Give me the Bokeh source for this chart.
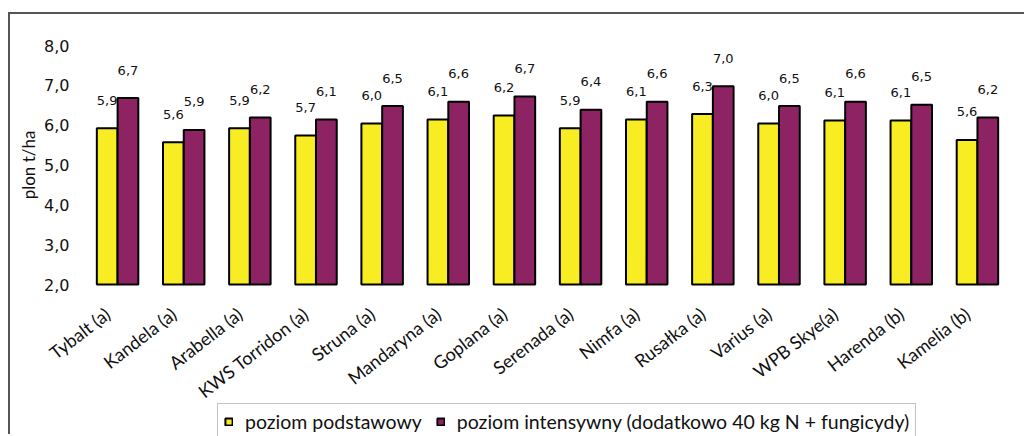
import math
from bokeh.plotting import figure
from bokeh.models import ColumnDataSource, Range1d, Legend, LegendItem, FixedTicker, CustomJSTickFormatter
from bokeh.transform import dodge
from bokeh.core.properties import value
from bokeh.embed import file_html
from bokeh.resources import INLINE

categories = ["Tybalt (a)", "Kandela (a)", "Arabella (a)", "KWS Torridon (a)", "Struna (a)",
              "Mandaryna (a)", "Goplana (a)", "Serenada (a)", "Nimfa (a)", "Rusałka (a)",
              "Varius (a)", "WPB Skye(a)", "Harenda (b)", "Kamelia (b)"]
basic = [5.92, 5.57, 5.92, 5.74, 6.04, 6.14, 6.24, 5.92, 6.14, 6.28, 6.04, 6.12, 6.12, 5.63]
intensive = [6.68, 5.88, 6.19, 6.14, 6.48, 6.59, 6.72, 6.39, 6.59, 6.98, 6.48, 6.59, 6.51, 6.19]
series_names = ["poziom podstawowy", "poziom intensywny (dodatkowo 40 kg N + fungicydy)"]
y_ticks = [2.0, 3.0, 4.0, 5.0, 6.0, 7.0, 8.0]
y_title = "plon t/ha"

def fmt(v):
    return f"{v:.1f}".replace(".", ",")

n = len(categories)
src = ColumnDataSource(dict(
    x=[i + 0.5 for i in range(n)], cat=categories, basic=basic, intensive=intensive,
    basic_lbl=[fmt(v) for v in basic], intensive_lbl=[fmt(v) for v in intensive],
))

# layout in pixels: the plot frame fills the chart box; category slots take 926 px,
# with 74 px on their left for the value labels; the value axis 2..8 spans 239 px and
# the frame continues 152 px below the baseline for the category labels and the legend
slot_px, left_px = 926.0 / n, 74.0
y_min, y_max = y_ticks[0], y_ticks[-1]
px_axis, px_below = 239.0, 152.0
y_lo = y_min - px_below * (y_max - y_min) / px_axis
x_lo = -left_px / slot_px

p = figure(x_range=Range1d(x_lo, n), y_range=Range1d(y_lo, y_max),
           width=1016, height=422, output_backend="svg", toolbar_location=None,
           x_axis_location=None,
           min_border_left=0, min_border_top=31, min_border_right=16, min_border_bottom=0)
p.styles = {"border-left": "2px solid #555555", "border-top": "2px solid #555555",
            "margin-top": "12px", "margin-left": "8px"}
p.outline_line_color = None
p.xgrid.grid_line_color = None
p.ygrid.grid_line_color = None

bw = 0.313
r1 = p.vbar(x=dodge("x", -0.157), top="basic", bottom=y_min, width=bw, source=src,
            fill_color="#F8EC23", line_color="#000000", line_width=2)
r2 = p.vbar(x=dodge("x", 0.157), top="intensive", bottom=y_min, width=bw, source=src,
            fill_color="#8E2363", line_color="#000000", line_width=2)

for col, lbl, dx in (("basic", "basic_lbl", -0.157), ("intensive", "intensive_lbl", 0.157)):
    p.text(x=dodge("x", dx), y=col, text=lbl, source=src,
           text_align="center", text_baseline="middle", y_offset=-28,
           text_font=value("DejaVu Sans"), text_font_size="13px", text_color="#111111")

# category labels, rotated, hanging below the baseline
p.text(x="x", y=y_min, text="cat", source=src, angle=0.66,
       text_align="right", text_baseline="middle", x_offset=-10, y_offset=27,
       text_font=value("Lato"), text_font_size="18px", text_color="#111111")

# value axis title, centred on the 2..8 span
p.text(x=[x_lo], y=[(y_min + y_max) / 2], text=[y_title], angle=math.pi / 2,
       text_align="center", text_baseline="middle", x_offset=18,
       text_font=value("Lato"), text_font_size="17px", text_color="#111111")

p.yaxis.ticker = FixedTicker(ticks=y_ticks)
p.yaxis.formatter = CustomJSTickFormatter(code="return tick.toFixed(1).replace('.', ',');")
p.yaxis.axis_line_color = None
p.yaxis.major_tick_line_color = None
p.yaxis.minor_tick_line_color = None
p.yaxis.major_tick_out = 0
p.yaxis.minor_tick_out = 0
p.yaxis.major_label_text_font = "DejaVu Sans"
p.yaxis.major_label_text_font_size = "16px"
p.yaxis.major_label_text_color = "#111111"
p.yaxis.major_label_standoff = -59

legend = Legend(items=[LegendItem(label=series_names[0], renderers=[r1]),
                       LegendItem(label=series_names[1], renderers=[r2])],
                orientation="horizontal", location=(207, -4),
                label_text_font="Lato", label_text_font_size="19.5px", label_text_color="#111111",
                glyph_width=9, glyph_height=9, label_standoff=12, spacing=14,
                padding=6, margin=0, border_line_color="#888888", border_line_width=1,
                background_fill_alpha=1.0)
p.add_layout(legend, "center")

open("out.html", "w").write(file_html(p, INLINE))
